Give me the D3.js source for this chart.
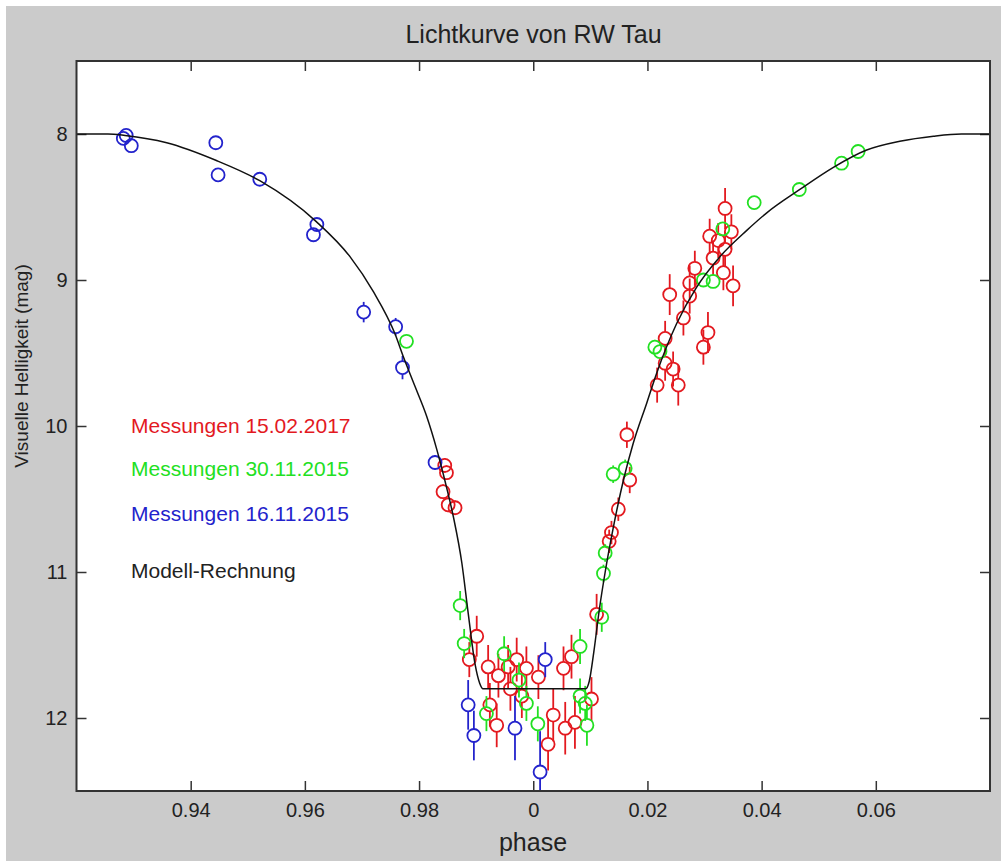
<!DOCTYPE html>
<html>
<head>
<meta charset="utf-8">
<script src="https://cdn.jsdelivr.net/npm/d3@7"></script>
<style>
  body { margin: 0; background: #fff; }
  svg { display: block; }
  text { font-family: "Liberation Sans", Arial, sans-serif; }
</style>
</head>
<body>
<svg id="chart"></svg>
<script>
// phase values are stored centred on 0 (negative = 1 - |phase|)
// [phase, mag, error]
const red2017 = [
  [-0.0155, 10.27, 0.05], [-0.0152, 10.32, 0.05], [-0.0158, 10.45, 0.05], [-0.0149, 10.54, 0.05],
  [-0.0137, 10.56, 0.05], [-0.0099, 11.44, 0.14], [-0.0112, 11.60, 0.12],
  [-0.0079, 11.65, 0.15], [-0.0061, 11.71, 0.15], [-0.0044, 11.65, 0.15], [-0.0029, 11.60, 0.15],
  [-0.0012, 11.66, 0.15], [0.0009, 11.72, 0.15], [-0.0076, 11.91, 0.15], [-0.0064, 12.05, 0.15],
  [-0.0040, 11.80, 0.15], [-0.0020, 11.85, 0.15], [0.0035, 11.98, 0.18], [0.0026, 12.18, 0.18],
  [0.0053, 11.66, 0.15], [0.0067, 11.58, 0.15], [0.0056, 12.07, 0.18], [0.0073, 12.03, 0.18],
  [0.0102, 11.87, 0.15], [0.0111, 11.29, 0.14],
  [0.0133, 10.79, 0.08], [0.0137, 10.73, 0.08], [0.0149, 10.57, 0.08], [0.0164, 10.06, 0.09],
  [0.0169, 10.37, 0.09], [0.0217, 9.72, 0.12], [0.0231, 9.40, 0.12], [0.0231, 9.57, 0.12],
  [0.0245, 9.61, 0.12], [0.0254, 9.72, 0.14], [0.0239, 9.10, 0.14], [0.0263, 9.26, 0.12],
  [0.0274, 9.02, 0.12], [0.0274, 9.11, 0.12], [0.0283, 8.92, 0.12], [0.0298, 9.46, 0.12],
  [0.0306, 9.36, 0.14], [0.0315, 8.85, 0.12], [0.0309, 8.70, 0.12], [0.0324, 8.73, 0.12],
  [0.0333, 8.95, 0.12], [0.0336, 8.79, 0.12], [0.0336, 8.51, 0.14], [0.0347, 8.67, 0.12],
  [0.0350, 9.04, 0.14]
];

const green2015 = [
  [-0.0222, 9.42, 0.04], [-0.0128, 11.23, 0.10], [-0.0121, 11.49, 0.10], [-0.0082, 11.97, 0.12],
  [-0.0051, 11.56, 0.12], [-0.0025, 11.74, 0.12], [-0.0012, 11.90, 0.12], [0.0008, 12.04, 0.12],
  [0.0082, 11.51, 0.12], [0.0082, 11.85, 0.12], [0.0091, 11.90, 0.12], [0.0094, 12.05, 0.14],
  [0.0120, 11.31, 0.10], [0.0123, 11.01, 0.06], [0.0126, 10.87, 0.06], [0.0140, 10.33, 0.06],
  [0.0161, 10.29, 0.06], [0.0213, 9.46, 0.05], [0.0222, 9.49, 0.05], [0.0298, 9.00, 0],
  [0.0315, 9.01, 0], [0.0332, 8.65, 0], [0.0387, 8.47, 0], [0.0466, 8.38, 0],
  [0.0540, 8.20, 0], [0.0569, 8.12, 0]
];

const blue2015 = [
  [-0.0718, 8.03, 0], [-0.0713, 8.01, 0], [-0.0704, 8.08, 0], [-0.0556, 8.06, 0],
  [-0.0552, 8.28, 0], [-0.0479, 8.31, 0], [-0.0379, 8.62, 0.03], [-0.0385, 8.69, 0.03],
  [-0.0297, 9.22, 0.07], [-0.0241, 9.32, 0.06], [-0.0229, 9.60, 0.08], [-0.0172, 10.25, 0.05],
  [-0.0114, 11.91, 0.17], [-0.0104, 12.12, 0.17], [-0.0032, 12.07, 0.22], [0.0012, 12.37, 0.28],
  [0.0021, 11.60, 0.12]
];

const modelPhase = [-0.080, -0.0745, -0.0715, -0.0642, -0.0556, -0.0479, -0.0380, -0.0321, -0.0280,
  -0.0242, -0.0228, -0.0207, -0.0187, -0.0169, -0.0155, -0.0140, -0.0125, -0.0114, -0.0102,
  -0.0094, -0.0088,
  0.0092, 0.0098, 0.0106, 0.0116, 0.0126, 0.0140, 0.0158, 0.0175, 0.0199, 0.0216,
  0.0251, 0.0286, 0.0327, 0.0374, 0.0409, 0.0467, 0.0525, 0.0584, 0.0642, 0.0701,
  0.0750, 0.080];
const modelMag = [8.00, 8.00, 8.01, 8.06, 8.18, 8.32, 8.60, 8.84, 9.08,
  9.37, 9.52, 9.73, 9.93, 10.16, 10.37, 10.62, 10.94, 11.28, 11.63,
  11.76, 11.80,
  11.80, 11.75, 11.55, 11.25, 11.00, 10.70, 10.37, 10.12, 9.84, 9.64,
  9.30, 9.05, 8.84, 8.66, 8.54, 8.38, 8.23, 8.11, 8.05, 8.015,
  8.00, 8.00];

const xTicks = [-0.06, -0.04, -0.02, 0, 0.02, 0.04, 0.06];
const xTickLabels = ["0.94", "0.96", "0.98", "0", "0.02", "0.04", "0.06"];
const yTicks = [8, 9, 10, 11, 12];

const legendItems = [
  { label: "Messungen 15.02.2017", color: "#e3191f" },
  { label: "Messungen 30.11.2015", color: "#22e022" },
  { label: "Messungen 16.11.2015", color: "#2323cc" },
  { label: "Modell-Rechnung", color: "#222" }
];

const width = 1001, height = 861;
const plot = { left: 76.5, right: 990, top: 61, bottom: 791 };

const svg = d3.select('#chart')
  .attr('width', width)
  .attr('height', height);

// gray window background
svg.append('rect').attr('width', width).attr('height', height).attr('fill', '#fff');
svg.append('rect')
  .attr('x', 6).attr('y', 6)
  .attr('width', width - 6).attr('height', height - 6)
  .attr('fill', '#cbcbcb');

svg.append('rect')
  .attr('x', plot.left).attr('y', plot.top)
  .attr('width', plot.right - plot.left).attr('height', plot.bottom - plot.top)
  .attr('fill', '#fff');

svg.append('clipPath').attr('id', 'plot-clip')
  .append('rect')
  .attr('x', plot.left).attr('y', plot.top)
  .attr('width', plot.right - plot.left).attr('height', plot.bottom - plot.top);

const xScale = d3.scaleLinear().domain([-0.08, 0.08]).range([plot.left, plot.right]);
const yScale = d3.scaleLinear().domain([7.5, 12.5]).range([plot.top, plot.bottom]);

// axes, ticks pointing inward
const fmtX = d => xTickLabels[xTicks.indexOf(d)];

const xAxisB = d3.axisBottom(xScale).tickValues(xTicks).tickFormat(fmtX)
  .tickSizeInner(-10).tickSizeOuter(0).tickPadding(12);
const xAxisT = d3.axisTop(xScale).tickValues(xTicks).tickFormat('')
  .tickSizeInner(-10).tickSizeOuter(0);
const yAxisL = d3.axisLeft(yScale).tickValues(yTicks).tickFormat(d3.format('d'))
  .tickSizeInner(-10).tickSizeOuter(0).tickPadding(9);
const yAxisR = d3.axisRight(yScale).tickValues(yTicks).tickFormat('')
  .tickSizeInner(-10).tickSizeOuter(0);

function styleAxis(g) {
  g.select('.domain').remove();
  g.selectAll('line').attr('stroke', '#333').attr('stroke-width', 1.5);
  g.selectAll('text')
    .attr('fill', '#222')
    .style('font-size', '20px')
    .style('font-family', '"Liberation Sans", Arial, sans-serif');
}

svg.append('g').attr('transform', `translate(0,${plot.bottom})`).call(xAxisB).call(styleAxis);
svg.append('g').attr('transform', `translate(0,${plot.top})`).call(xAxisT).call(styleAxis);
svg.append('g').attr('transform', `translate(${plot.left},0)`).call(yAxisL).call(styleAxis);
svg.append('g').attr('transform', `translate(${plot.right},0)`).call(yAxisR).call(styleAxis);

const chart = svg.append('g').attr('clip-path', 'url(#plot-clip)');

// measurement series with error bars (bar is drawn outside the circle)
const r = 6.5;
function drawSeries(data, color) {
  const g = chart.append('g');
  const withErr = data.filter(d => d[2] > 0);
  g.selectAll('.eb-up').data(withErr).join('line')
    .attr('class', 'eb-up')
    .attr('x1', d => xScale(d[0])).attr('x2', d => xScale(d[0]))
    .attr('y1', d => yScale(d[1] - d[2]))
    .attr('y2', d => Math.max(yScale(d[1] - d[2]), yScale(d[1]) - r))
    .attr('stroke', color).attr('stroke-width', 1.8);
  g.selectAll('.eb-down').data(withErr).join('line')
    .attr('class', 'eb-down')
    .attr('x1', d => xScale(d[0])).attr('x2', d => xScale(d[0]))
    .attr('y1', d => yScale(d[1] + d[2]))
    .attr('y2', d => Math.min(yScale(d[1] + d[2]), yScale(d[1]) + r))
    .attr('stroke', color).attr('stroke-width', 1.8);
  g.selectAll('circle').data(data).join('circle')
    .attr('cx', d => xScale(d[0]))
    .attr('cy', d => yScale(d[1]))
    .attr('r', r)
    .attr('fill', 'none')
    .attr('stroke', color)
    .attr('stroke-width', 1.8);
}

drawSeries(red2017, legendItems[0].color);
drawSeries(green2015, legendItems[1].color);
drawSeries(blue2015, legendItems[2].color);

// model curve
const model = modelPhase.map((p, i) => [p, modelMag[i]]);
chart.append('path')
  .datum(model)
  .attr('d', d3.line().x(d => xScale(d[0])).y(d => yScale(d[1])).curve(d3.curveMonotoneX))
  .attr('fill', 'none')
  .attr('stroke', '#111')
  .attr('stroke-width', 1.5);

// frame
svg.append('rect')
  .attr('x', plot.left).attr('y', plot.top)
  .attr('width', plot.right - plot.left).attr('height', plot.bottom - plot.top)
  .attr('fill', 'none')
  .attr('stroke', '#333')
  .attr('stroke-width', 2);

// legend as coloured text
const legendY = [433, 476, 521, 578];
svg.selectAll('.legend').data(legendItems).join('text')
  .attr('class', 'legend')
  .attr('x', 131)
  .attr('y', (d, i) => legendY[i])
  .attr('fill', d => d.color)
  .style('font-size', '21px')
  .text(d => d.label);

// titles
svg.append('text')
  .attr('x', 533.5).attr('y', 43)
  .attr('text-anchor', 'middle')
  .attr('fill', '#222')
  .style('font-size', '25px')
  .text('Lichtkurve von RW Tau');

svg.append('text')
  .attr('x', 533).attr('y', 851)
  .attr('text-anchor', 'middle')
  .attr('fill', '#222')
  .style('font-size', '25px')
  .text('phase');

svg.append('text')
  .attr('transform', 'translate(28,366) rotate(-90)')
  .attr('text-anchor', 'middle')
  .attr('fill', '#222')
  .style('font-size', '19px')
  .text('Visuelle Helligkeit (mag)');
</script>
</body>
</html>
